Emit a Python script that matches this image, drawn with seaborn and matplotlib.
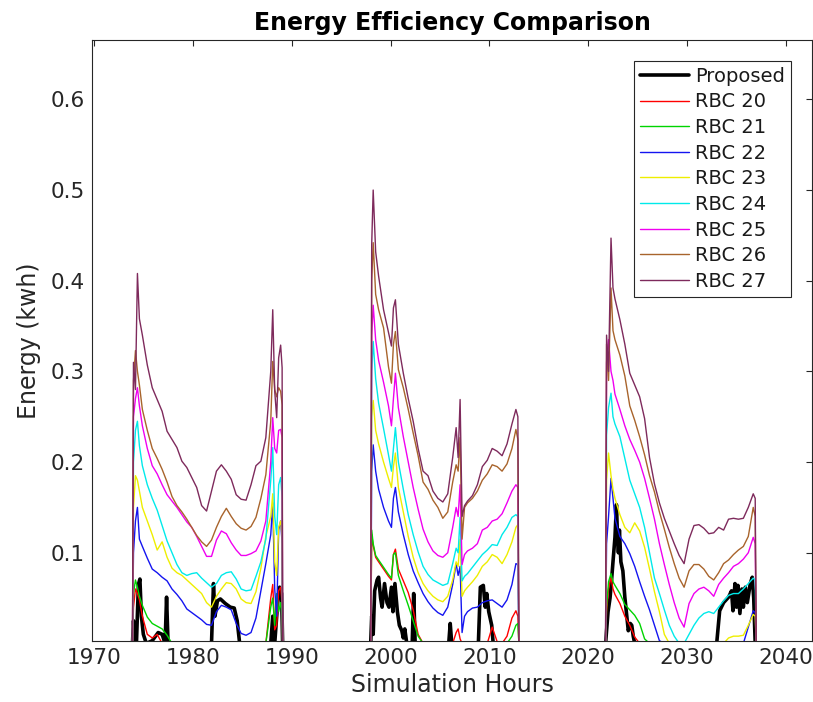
import matplotlib
matplotlib.use("Agg")
import matplotlib.pyplot as plt
import seaborn as sns
import pandas as pd

# ---------------- data ----------------
hours_seg1 = [1973.87, 1973.97, 1974.17, 1974.37, 1974.57, 1974.87, 1975.37, 1975.87, 1976.37,
              1976.87, 1977.37, 1977.87, 1978.37, 1978.87, 1979.37, 1979.87, 1980.37, 1980.87,
              1981.37, 1981.87, 1982.37, 1982.87, 1983.37, 1983.87, 1984.37, 1984.87, 1985.37,
              1985.87, 1986.37, 1986.87, 1987.37, 1987.87, 1988.07, 1988.27, 1988.47, 1988.67,
              1988.87, 1989.02, 1989.07]
hours_seg2 = [1997.99, 1998.09, 1998.24, 1998.49, 1998.79, 1999.29, 1999.79, 2000.09, 2000.29,
              2000.49, 2000.79, 2001.29, 2001.79, 2002.29, 2002.79, 2003.29, 2003.79, 2004.29,
              2004.79, 2005.29, 2005.79, 2006.29, 2006.64, 2006.84, 2007.04, 2007.24, 2007.49,
              2007.79, 2008.29, 2008.79, 2009.29, 2009.79, 2010.29, 2010.79, 2011.29, 2011.79,
              2012.29, 2012.69, 2012.89, 2012.99]
hours_seg3 = [2021.77, 2021.87, 2022.07, 2022.32, 2022.52, 2022.72, 2023.22, 2023.72, 2024.22,
              2024.72, 2025.22, 2025.72, 2026.22, 2026.72, 2027.22, 2027.72, 2028.22, 2028.72,
              2029.22, 2029.72, 2030.22, 2030.72, 2031.22, 2031.72, 2032.22, 2032.72, 2033.22,
              2033.72, 2034.22, 2034.72, 2035.22, 2035.72, 2036.22, 2036.72, 2036.92, 2037.02]
rbc_hours = hours_seg1 + hours_seg2 + hours_seg3

rbc20 = ([0, 0.040, 0.060, 0.055, 0.048, 0.030, 0.010, 0.006, 0.010] + [0] * 22
         + [0.050, 0.065, 0.015, 0.020, 0.058, 0.062, 0.045, 0]
         + [0, 0.120, 0.108, 0.095, 0.090, 0.082, 0.074, 0.070, 0.098, 0.104, 0.082, 0.069, 0.056,
            0.037, 0.010] + [0] * 7 + [0.012, 0.016, 0.005] + [0] * 7
         + [0.018, 0.002, 0, 0.008, 0.028, 0.036, 0.030, 0]
         + [0, 0.035, 0.060, 0.073, 0.060, 0.054, 0.044, 0.030, 0.020, 0.007] + [0] * 26)
rbc21 = ([0, 0.055, 0.070, 0.062, 0.052, 0.042, 0.029, 0.022, 0.019, 0.016, 0.009] + [0] * 20
         + [0.040, 0.050, 0.020, 0.055, 0.035, 0.045, 0.030, 0]
         + [0, 0.125, 0.110, 0.097, 0.092, 0.084, 0.076, 0.072, 0.098, 0.100, 0.075, 0.058, 0.042,
            0.025, 0.008] + [0] * 21 + [0.008, 0.020, 0.022, 0]
         + [0, 0.040, 0.068, 0.077, 0.068, 0.064, 0.055, 0.043, 0.037, 0.031, 0.022, 0.005]
         + [0] * 24)
rbc22 = ([0, 0.10, 0.135, 0.150, 0.115, 0.107, 0.094, 0.082, 0.078, 0.073,
          0.069, 0.060, 0.054, 0.047, 0.038, 0.034, 0.030, 0.026, 0.021, 0.020,
          0.035, 0.042, 0.040, 0.037, 0.022, 0.011, 0.009, 0.012, 0.028, 0.058,
          0.088, 0.120, 0.155, 0.060, 0.030, 0.125, 0.135, 0.110, 0]
         + [0, 0.19, 0.219, 0.190, 0.170, 0.150, 0.135, 0.128, 0.160, 0.172,
            0.145, 0.120, 0.098, 0.080, 0.067, 0.055, 0.046, 0.039, 0.034, 0.031,
            0.040, 0.065, 0.088, 0.075, 0.085, 0.012, 0.030, 0.035, 0.039, 0.040,
            0.045, 0.047, 0.048, 0.044, 0.040, 0.048, 0.065, 0.088, 0.087, 0]
         + [0, 0.110, 0.140, 0.182, 0.160, 0.138, 0.118, 0.110, 0.099, 0.085,
            0.068, 0.052, 0.037, 0.020, 0.003] + [0] * 17 + [0.018, 0.036, 0.034, 0])
rbc23 = ([0, 0.15, 0.185, 0.180, 0.168, 0.150, 0.135, 0.120, 0.103, 0.112,
          0.095, 0.083, 0.078, 0.075, 0.070, 0.065, 0.060, 0.055, 0.045, 0.040,
          0.052, 0.060, 0.067, 0.066, 0.060, 0.049, 0.045, 0.044, 0.057, 0.083,
          0.118, 0.140, 0.165, 0.090, 0.075, 0.128, 0.135, 0.117, 0]
         + [0, 0.25, 0.268, 0.235, 0.220, 0.200, 0.182, 0.172, 0.195, 0.210,
            0.172, 0.145, 0.118, 0.095, 0.078, 0.066, 0.058, 0.052, 0.048, 0.046,
            0.052, 0.070, 0.090, 0.085, 0.115, 0.052, 0.058, 0.062, 0.068, 0.075,
            0.085, 0.090, 0.098, 0.095, 0.088, 0.098, 0.112, 0.128, 0.131, 0]
         + [0, 0.180, 0.210, 0.185, 0.170, 0.160, 0.142, 0.128, 0.122, 0.133,
            0.124, 0.106, 0.082, 0.057, 0.035, 0.010] + [0] * 12
         + [0.006, 0.008, 0.008, 0.009, 0.020, 0.032, 0.030, 0])
rbc24 = ([0, 0.20, 0.235, 0.245, 0.218, 0.196, 0.175, 0.160, 0.147, 0.130,
          0.113, 0.100, 0.087, 0.078, 0.075, 0.077, 0.078, 0.072, 0.067, 0.062,
          0.066, 0.075, 0.078, 0.079, 0.071, 0.060, 0.058, 0.059, 0.074, 0.090,
          0.115, 0.180, 0.216, 0.140, 0.120, 0.175, 0.183, 0.161, 0]
         + [0, 0.30, 0.333, 0.292, 0.265, 0.237, 0.208, 0.190, 0.215, 0.238,
            0.200, 0.170, 0.142, 0.120, 0.101, 0.085, 0.076, 0.070, 0.067, 0.064,
            0.066, 0.088, 0.105, 0.100, 0.139, 0.069, 0.074, 0.077, 0.084, 0.091,
            0.098, 0.103, 0.109, 0.108, 0.120, 0.128, 0.139, 0.142, 0.140, 0]
         + [0, 0.230, 0.260, 0.276, 0.250, 0.242, 0.228, 0.204, 0.180, 0.165,
            0.150, 0.128, 0.100, 0.072, 0.055, 0.037, 0.020, 0.008, 0, 0,
            0.010, 0.020, 0.028, 0.033, 0.035, 0.033, 0.040, 0.047, 0.053, 0.055,
            0.055, 0.060, 0.066, 0.072, 0.070, 0])
rbc25 = ([0, 0.25, 0.27, 0.282, 0.262, 0.240, 0.215, 0.196, 0.187, 0.175,
          0.164, 0.157, 0.150, 0.142, 0.134, 0.128, 0.118, 0.107, 0.096, 0.096,
          0.114, 0.124, 0.121, 0.111, 0.103, 0.097, 0.097, 0.099, 0.102, 0.113,
          0.135, 0.200, 0.249, 0.215, 0.210, 0.235, 0.236, 0.227, 0]
         + [0, 0.34, 0.373, 0.335, 0.312, 0.288, 0.262, 0.240, 0.270, 0.298,
            0.260, 0.228, 0.200, 0.172, 0.148, 0.126, 0.112, 0.102, 0.097, 0.095,
            0.100, 0.128, 0.150, 0.140, 0.175, 0.087, 0.098, 0.102, 0.105, 0.110,
            0.125, 0.128, 0.135, 0.137, 0.143, 0.155, 0.168, 0.175, 0.172, 0]
         + [0, 0.310, 0.335, 0.300, 0.290, 0.275, 0.258, 0.240, 0.225, 0.213,
            0.200, 0.182, 0.160, 0.137, 0.110, 0.087, 0.065, 0.045, 0.028, 0.018,
            0.044, 0.055, 0.060, 0.062, 0.058, 0.052, 0.065, 0.072, 0.078, 0.085,
            0.088, 0.093, 0.100, 0.117, 0.110, 0])
rbc26 = ([0, 0.29, 0.323, 0.30, 0.285, 0.258, 0.235, 0.215, 0.204, 0.192,
          0.178, 0.162, 0.152, 0.145, 0.137, 0.128, 0.119, 0.112, 0.107, 0.114,
          0.128, 0.140, 0.149, 0.140, 0.132, 0.127, 0.125, 0.129, 0.139, 0.160,
          0.186, 0.245, 0.311, 0.280, 0.272, 0.282, 0.278, 0.263, 0]
         + [0, 0.40, 0.442, 0.385, 0.368, 0.348, 0.305, 0.287, 0.330, 0.344,
            0.302, 0.282, 0.258, 0.232, 0.207, 0.178, 0.170, 0.158, 0.150, 0.138,
            0.145, 0.178, 0.197, 0.190, 0.227, 0.115, 0.150, 0.155, 0.160, 0.168,
            0.180, 0.187, 0.197, 0.195, 0.190, 0.198, 0.215, 0.236, 0.225, 0]
         + [0, 0.330, 0.290, 0.392, 0.345, 0.335, 0.318, 0.295, 0.262, 0.246,
            0.228, 0.208, 0.185, 0.167, 0.145, 0.126, 0.106, 0.088, 0.072, 0.062,
            0.080, 0.087, 0.087, 0.082, 0.074, 0.070, 0.078, 0.088, 0.092, 0.098,
            0.103, 0.107, 0.118, 0.150, 0.140, 0])
rbc27 = ([0, 0.31, 0.28, 0.408, 0.358, 0.340, 0.307, 0.282, 0.269, 0.256,
          0.234, 0.225, 0.216, 0.201, 0.194, 0.183, 0.172, 0.152, 0.146, 0.168,
          0.190, 0.197, 0.190, 0.181, 0.164, 0.159, 0.158, 0.175, 0.196, 0.201,
          0.227, 0.300, 0.368, 0.278, 0.249, 0.315, 0.329, 0.304, 0]
         + [0, 0.44, 0.500, 0.432, 0.405, 0.368, 0.343, 0.328, 0.370, 0.379,
            0.330, 0.298, 0.270, 0.245, 0.215, 0.190, 0.185, 0.168, 0.160, 0.156,
            0.165, 0.205, 0.238, 0.205, 0.269, 0.140, 0.152, 0.157, 0.163, 0.175,
            0.195, 0.202, 0.215, 0.212, 0.207, 0.220, 0.242, 0.258, 0.250, 0]
         + [0, 0.340, 0.300, 0.447, 0.392, 0.380, 0.357, 0.330, 0.298, 0.285,
            0.272, 0.248, 0.205, 0.176, 0.155, 0.138, 0.124, 0.110, 0.097, 0.088,
            0.115, 0.130, 0.131, 0.127, 0.121, 0.122, 0.128, 0.125, 0.137, 0.138,
            0.137, 0.138, 0.150, 0.165, 0.160, 0])

proposed_hours = [1973.87, 1973.97, 1974.07, 1974.27, 1974.47, 1974.62, 1974.77, 1974.97, 1975.27,
                  1975.87, 1976.47, 1976.87, 1977.17, 1977.32, 1977.47, 1981.87, 1982.07, 1982.22,
                  1982.47, 1982.77, 1983.27, 1983.77, 1984.17, 1984.47, 1984.72, 1987.87, 1988.07,
                  1988.27, 1988.57, 1988.77, 1988.97, 1989.07,
                  1997.99, 1998.09, 1998.24, 1998.39, 1998.64, 1998.79, 1998.99, 1999.14, 1999.39,
                  1999.64, 1999.84, 2000.09, 2000.24, 2000.44, 2000.69, 2000.89, 2001.14, 2001.29,
                  2001.44, 2001.64, 2002.19, 2002.34, 2002.49, 2005.89, 2006.04, 2006.19, 2008.89,
                  2009.09, 2009.39, 2009.59, 2009.74, 2009.94, 2010.24, 2010.39, 2012.99,
                  2021.77, 2021.87, 2022.02, 2022.22, 2022.37, 2022.52, 2022.72, 2022.87, 2022.97,
                  2023.07, 2023.17, 2023.32, 2023.52, 2023.72, 2023.87, 2024.07, 2024.27, 2024.42,
                  2024.57, 2024.72, 2033.02, 2033.32, 2033.72, 2034.22, 2034.52, 2034.67, 2034.87,
                  2035.02, 2035.17, 2035.37, 2035.57, 2035.72, 2035.92, 2036.12, 2036.42, 2036.62,
                  2036.77, 2036.92, 2037.02]
proposed_energy = [0, 0.025, 0.005, 0.0, 0.065, 0.071, 0.030, 0.010, 0.0, 0.003, 0.012, 0.010, 0.0,
                   0.051, 0.0, 0.0, 0.066, 0.030, 0.047, 0.049, 0.044, 0.040, 0.039, 0.025, 0.0, 0.0,
                   0.030, 0.0, 0.045, 0.062, 0.055, 0.0,
                   0, 0.03, 0.01, 0.058, 0.070, 0.073, 0.050, 0.040, 0.066, 0.045, 0.040, 0.062, 0.035,
                   0.066, 0.035, 0.020, 0.014, 0.006, 0.016, 0.0, 0.0, 0.055, 0.0, 0.0, 0.022, 0.0, 0.0,
                   0.062, 0.064, 0.040, 0.055, 0.035, 0.020, 0.0, 0,
                   0, 0.014, 0.035, 0.050, 0.069, 0.090, 0.117, 0.153, 0.120, 0.100, 0.125, 0.090,
                   0.080, 0.051, 0.035, 0.014, 0.022, 0.020, 0.008, 0, 0, 0.036, 0.045, 0.051, 0.058,
                   0.036, 0.066, 0.040, 0.064, 0.033, 0.060, 0.040, 0.062, 0.045, 0.066, 0.073, 0.050,
                   0.0, 0]

series_names = ["RBC 20", "RBC 21", "RBC 22", "RBC 23", "RBC 24", "RBC 25", "RBC 26", "RBC 27"]
series_values = [rbc20, rbc21, rbc22, rbc23, rbc24, rbc25, rbc26, rbc27]
series_colors = ["#ff0000", "#00d400", "#1414f0", "#eeee00", "#00eaea", "#f000f0", "#a8642c", "#7e2a5c"]

x_ticks = [1970, 1980, 1990, 2000, 2010, 2020, 2030, 2040]
y_ticks = [0.1, 0.2, 0.3, 0.4, 0.5, 0.6]

lens = {n: len(v) for n, v in zip(series_names, series_values)}
if any(l != len(rbc_hours) for l in lens.values()) or len(proposed_hours) != len(proposed_energy):
    raise SystemExit(f"length mismatch: hours={len(rbc_hours)} {lens} "
                     f"prop={len(proposed_hours)}/{len(proposed_energy)}")

# ---------------- plotting ----------------
sns.set_theme(style="white")
plt.rcParams['font.family'] = ['DejaVu Sans']

fig = plt.figure(figsize=(8.13, 7.02), dpi=100)
ax = fig.add_axes([92 / 813, (702 - 640.7) / 702, (812 - 92) / 813, (640.7 - 40) / 702])

df_prop = pd.DataFrame({"hours": proposed_hours, "energy": proposed_energy})
sns.lineplot(data=df_prop, x="hours", y="energy", color="black", lw=2.6,
             estimator=None, sort=False, label="Proposed", ax=ax)
for name, vals, col in zip(series_names, series_values, series_colors):
    d = pd.DataFrame({"hours": rbc_hours, "energy": vals})
    sns.lineplot(data=d, x="hours", y="energy", color=col, lw=1.0,
                 estimator=None, sort=False, label=name, ax=ax)

ax.set_xlim(1969.77, 2042.67)
ax.set_ylim(0.003, 0.6655)
ax.set_xticks(x_ticks)
ax.set_yticks(y_ticks)
ax.set_yticklabels([f"{v:.1f}" for v in y_ticks])

for s in ax.spines.values():
    s.set_color("#262626")
    s.set_linewidth(0.8)
ax.tick_params(direction="in", top=True, right=True, length=4, width=0.8,
               colors="#262626", labelsize=15.5, pad=5)

ax.set_title("Energy Efficiency Comparison", fontsize=17, fontweight="bold", pad=7.5, color="black")
ax.set_xlabel("Simulation Hours", fontsize=17, color="#262626", labelpad=4)
ax.set_ylabel("Energy (kwh)", fontsize=17, color="#262626", labelpad=7)

leg = ax.legend(loc="upper right", bbox_to_anchor=(0.971, 0.965), borderaxespad=0,
                fontsize=14, handlelength=2.5, handletextpad=0.35, labelspacing=0.34,
                borderpad=0.3, fancybox=False, framealpha=1, edgecolor="#262626")
leg.get_frame().set_linewidth(0.8)
for t in leg.get_texts():
    t.set_color("#1a1a1a")

fig.savefig("out.png", dpi=100)
